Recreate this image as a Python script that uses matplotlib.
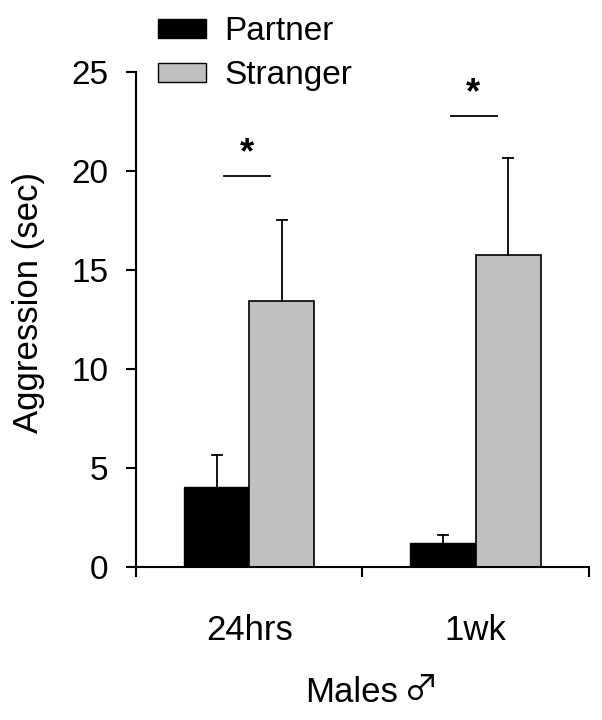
import numpy as np
import matplotlib.pyplot as plt
from matplotlib.patches import Patch

plt.rcParams['font.family'] = ['Liberation Sans', 'DejaVu Sans']

# donnees
groupes = ['24hrs', '1wk']
partner = [4.05, 1.2]
partner_err = [1.6, 0.4]
stranger = [13.45, 15.75]
stranger_err = [4.1, 4.9]
sig_y = [19.75, 22.8]

fig = plt.figure(figsize=(6.02, 7.2), dpi=100)
ax = fig.add_axes([0.226, 0.2125, 0.752, 0.6875])

centres = np.array([0.5, 1.5])
w = 0.288
x_p = centres - w/2
x_s = centres + w/2
ax.bar(x_p, partner, w, color='black', edgecolor='black', linewidth=1)
ax.bar(x_s, stranger, w, color='#c0c0c0', edgecolor='black', linewidth=1.2)

# barres d'erreur (vers le haut seulement)
cap = 0.022
for xs, ys, es in [(x_p, partner, partner_err), (x_s, stranger, stranger_err)]:
    for x, y, e in zip(xs, ys, es):
        ax.plot([x, x], [y, y + e], color='black', lw=1.3)
        ax.plot([x - cap, x + cap], [y + e, y + e], color='black', lw=1.3)

# etoiles de significativite
for c, y in zip(centres, sig_y):
    ax.plot([c - 0.11, c + 0.093], [y, y], color='black', lw=1.3, clip_on=False)
    ax.text(c - 0.01, y + 1.1, '*', ha='center', va='center', fontsize=26,
            fontweight='bold', clip_on=False)

ax.set_xlim(0, 2)
ax.set_ylim(0, 25)
ax.set_yticks(range(0, 26, 5))
ax.set_xticks([0, 1, 2])
ax.set_xticklabels([])
for c, g in zip(centres, groupes):
    ax.text(c, -3.2, g, ha='center', va='center', fontsize=25)
ax.set_ylabel('Aggression (sec)', fontsize=25)
ax.yaxis.set_label_coords(-0.202, 0.535)
ax.text(0.95, -6.35, 'Males', ha='center', va='center', fontsize=25)
ax.text(1.26, -6.25, '♂', ha='center', va='center', fontsize=25,
        family=['Noto Sans CJK JP', 'DejaVu Sans'])

ax.spines['top'].set_visible(False)
ax.spines['right'].set_visible(False)
ax.spines['left'].set_linewidth(1.5)
ax.spines['bottom'].set_linewidth(1.5)
ax.tick_params(axis='both', direction='out', length=7, width=1.5, labelsize=24)
ax.tick_params(axis='y', pad=13)

handles = [Patch(facecolor='black', edgecolor='black'),
           Patch(facecolor='#c0c0c0', edgecolor='black')]
fig.legend(handles, ['Partner', 'Stranger'], loc='upper left',
           bbox_to_anchor=(0.212, 1.019), frameon=False, fontsize=24,
           handlelength=1.45, handleheight=0.5, handletextpad=0.55, labelspacing=0.38)

fig.savefig('out.png', dpi=100)
